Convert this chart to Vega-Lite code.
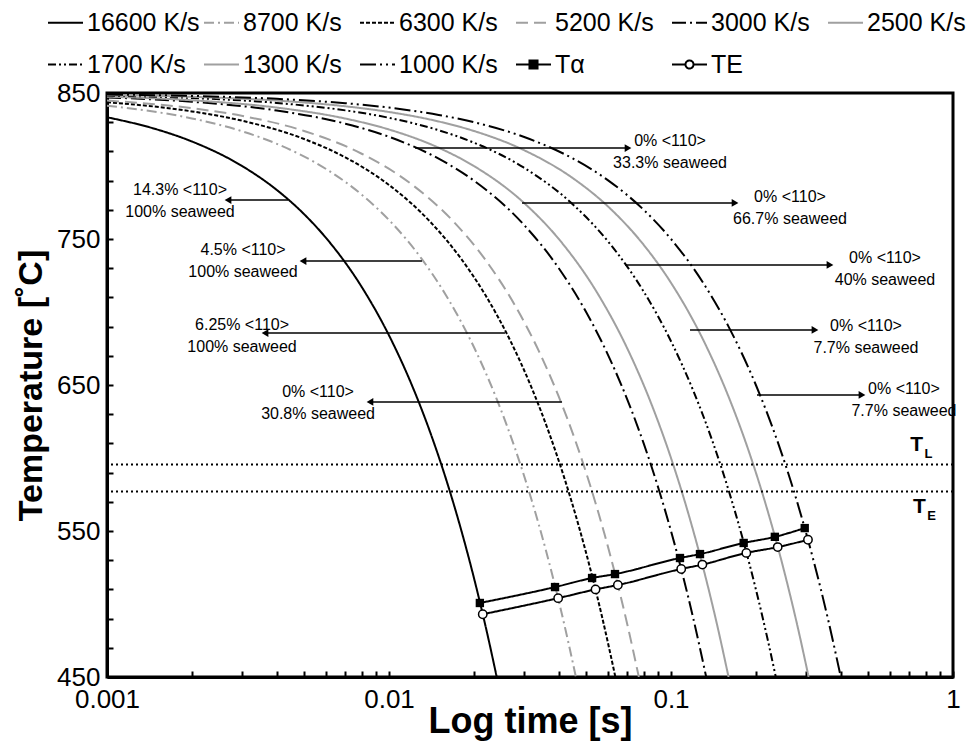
{
  "$schema": "https://vega.github.io/schema/vega-lite/v6.json",
  "width": 846,
  "height": 584,
  "autosize": {"type": "none"},
  "padding": {"left": 107, "top": 93, "right": 14, "bottom": 66},
  "background": "white",
  "config": {
    "font": "Liberation Sans",
    "view": {"stroke": "black", "strokeWidth": 3},
    "axis": {"grid": false, "domainColor": "black", "domainWidth": 3, "tickColor": "black", "tickWidth": 2, "labelColor": "black", "titleColor": "black", "labelFontSize": 26, "titleFontWeight": "bold", "labelOverlap": false, "labelFlush": false}
  },
  "datasets": {
    "curves": [
      {"series": "16600 K/s", "t": 0.001, "T": 833.4}, {"series": "16600 K/s", "t": 0.0015, "T": 825.1}, {"series": "16600 K/s", "t": 0.002, "T": 816.8}, {"series": "16600 K/s", "t": 0.003, "T": 800.2}, {"series": "16600 K/s", "t": 0.004, "T": 783.6}, {"series": "16600 K/s", "t": 0.005, "T": 767.0}, {"series": "16600 K/s", "t": 0.006, "T": 750.4}, {"series": "16600 K/s", "t": 0.008, "T": 717.2}, {"series": "16600 K/s", "t": 0.01, "T": 684.0}, {"series": "16600 K/s", "t": 0.012, "T": 650.8}, {"series": "16600 K/s", "t": 0.014, "T": 617.6}, {"series": "16600 K/s", "t": 0.016, "T": 584.4}, {"series": "16600 K/s", "t": 0.018, "T": 551.2}, {"series": "16600 K/s", "t": 0.02, "T": 518.0}, {"series": "16600 K/s", "t": 0.022, "T": 484.8}, {"series": "16600 K/s", "t": 0.0241, "T": 450},
      {"series": "8700 K/s", "t": 0.001, "T": 841.3}, {"series": "8700 K/s", "t": 0.002, "T": 832.6}, {"series": "8700 K/s", "t": 0.003, "T": 823.9}, {"series": "8700 K/s", "t": 0.004, "T": 815.2}, {"series": "8700 K/s", "t": 0.006, "T": 797.8}, {"series": "8700 K/s", "t": 0.008, "T": 780.4}, {"series": "8700 K/s", "t": 0.01, "T": 763.0}, {"series": "8700 K/s", "t": 0.013, "T": 736.9}, {"series": "8700 K/s", "t": 0.016, "T": 710.8}, {"series": "8700 K/s", "t": 0.02, "T": 676.0}, {"series": "8700 K/s", "t": 0.024, "T": 641.2}, {"series": "8700 K/s", "t": 0.028, "T": 606.4}, {"series": "8700 K/s", "t": 0.032, "T": 571.6}, {"series": "8700 K/s", "t": 0.036, "T": 536.8}, {"series": "8700 K/s", "t": 0.04, "T": 502.0}, {"series": "8700 K/s", "t": 0.043, "T": 475.9}, {"series": "8700 K/s", "t": 0.046, "T": 450},
      {"series": "6300 K/s", "t": 0.001, "T": 843.7}, {"series": "6300 K/s", "t": 0.002, "T": 837.4}, {"series": "6300 K/s", "t": 0.003, "T": 831.1}, {"series": "6300 K/s", "t": 0.005, "T": 818.5}, {"series": "6300 K/s", "t": 0.007, "T": 805.9}, {"series": "6300 K/s", "t": 0.01, "T": 787.0}, {"series": "6300 K/s", "t": 0.014, "T": 761.8}, {"series": "6300 K/s", "t": 0.018, "T": 736.6}, {"series": "6300 K/s", "t": 0.022, "T": 711.4}, {"series": "6300 K/s", "t": 0.027, "T": 679.9}, {"series": "6300 K/s", "t": 0.032, "T": 648.4}, {"series": "6300 K/s", "t": 0.037, "T": 616.9}, {"series": "6300 K/s", "t": 0.042, "T": 585.4}, {"series": "6300 K/s", "t": 0.047, "T": 553.9}, {"series": "6300 K/s", "t": 0.052, "T": 522.4}, {"series": "6300 K/s", "t": 0.057, "T": 490.9}, {"series": "6300 K/s", "t": 0.0635, "T": 450},
      {"series": "5200 K/s", "t": 0.001, "T": 844.8}, {"series": "5200 K/s", "t": 0.002, "T": 839.6}, {"series": "5200 K/s", "t": 0.003, "T": 834.4}, {"series": "5200 K/s", "t": 0.005, "T": 824.0}, {"series": "5200 K/s", "t": 0.008, "T": 808.4}, {"series": "5200 K/s", "t": 0.012, "T": 787.6}, {"series": "5200 K/s", "t": 0.017, "T": 761.6}, {"series": "5200 K/s", "t": 0.022, "T": 735.6}, {"series": "5200 K/s", "t": 0.028, "T": 704.4}, {"series": "5200 K/s", "t": 0.034, "T": 673.2}, {"series": "5200 K/s", "t": 0.04, "T": 642.0}, {"series": "5200 K/s", "t": 0.046, "T": 610.8}, {"series": "5200 K/s", "t": 0.052, "T": 579.6}, {"series": "5200 K/s", "t": 0.058, "T": 548.4}, {"series": "5200 K/s", "t": 0.064, "T": 517.2}, {"series": "5200 K/s", "t": 0.07, "T": 486.0}, {"series": "5200 K/s", "t": 0.0769, "T": 450},
      {"series": "3000 K/s", "t": 0.001, "T": 847.0}, {"series": "3000 K/s", "t": 0.002, "T": 844.0}, {"series": "3000 K/s", "t": 0.004, "T": 838.0}, {"series": "3000 K/s", "t": 0.007, "T": 829.0}, {"series": "3000 K/s", "t": 0.01, "T": 820.0}, {"series": "3000 K/s", "t": 0.015, "T": 805.0}, {"series": "3000 K/s", "t": 0.02, "T": 790.0}, {"series": "3000 K/s", "t": 0.03, "T": 760.0}, {"series": "3000 K/s", "t": 0.04, "T": 730.0}, {"series": "3000 K/s", "t": 0.05, "T": 700.0}, {"series": "3000 K/s", "t": 0.06, "T": 670.0}, {"series": "3000 K/s", "t": 0.07, "T": 640.0}, {"series": "3000 K/s", "t": 0.08, "T": 610.0}, {"series": "3000 K/s", "t": 0.09, "T": 580.0}, {"series": "3000 K/s", "t": 0.1, "T": 550.0}, {"series": "3000 K/s", "t": 0.11, "T": 520.0}, {"series": "3000 K/s", "t": 0.12, "T": 490.0}, {"series": "3000 K/s", "t": 0.1333, "T": 450},
      {"series": "2500 K/s", "t": 0.001, "T": 847.5}, {"series": "2500 K/s", "t": 0.002, "T": 845.0}, {"series": "2500 K/s", "t": 0.004, "T": 840.0}, {"series": "2500 K/s", "t": 0.007, "T": 832.5}, {"series": "2500 K/s", "t": 0.01, "T": 825.0}, {"series": "2500 K/s", "t": 0.015, "T": 812.5}, {"series": "2500 K/s", "t": 0.02, "T": 800.0}, {"series": "2500 K/s", "t": 0.03, "T": 775.0}, {"series": "2500 K/s", "t": 0.04, "T": 750.0}, {"series": "2500 K/s", "t": 0.055, "T": 712.5}, {"series": "2500 K/s", "t": 0.07, "T": 675.0}, {"series": "2500 K/s", "t": 0.085, "T": 637.5}, {"series": "2500 K/s", "t": 0.1, "T": 600.0}, {"series": "2500 K/s", "t": 0.115, "T": 562.5}, {"series": "2500 K/s", "t": 0.13, "T": 525.0}, {"series": "2500 K/s", "t": 0.145, "T": 487.5}, {"series": "2500 K/s", "t": 0.16, "T": 450},
      {"series": "1700 K/s", "t": 0.001, "T": 848.3}, {"series": "1700 K/s", "t": 0.002, "T": 846.6}, {"series": "1700 K/s", "t": 0.004, "T": 843.2}, {"series": "1700 K/s", "t": 0.007, "T": 838.1}, {"series": "1700 K/s", "t": 0.01, "T": 833.0}, {"series": "1700 K/s", "t": 0.015, "T": 824.5}, {"series": "1700 K/s", "t": 0.02, "T": 816.0}, {"series": "1700 K/s", "t": 0.03, "T": 799.0}, {"series": "1700 K/s", "t": 0.045, "T": 773.5}, {"series": "1700 K/s", "t": 0.06, "T": 748.0}, {"series": "1700 K/s", "t": 0.08, "T": 714.0}, {"series": "1700 K/s", "t": 0.1, "T": 680.0}, {"series": "1700 K/s", "t": 0.12, "T": 646.0}, {"series": "1700 K/s", "t": 0.14, "T": 612.0}, {"series": "1700 K/s", "t": 0.16, "T": 578.0}, {"series": "1700 K/s", "t": 0.18, "T": 544.0}, {"series": "1700 K/s", "t": 0.2, "T": 510.0}, {"series": "1700 K/s", "t": 0.22, "T": 476.0}, {"series": "1700 K/s", "t": 0.2353, "T": 450},
      {"series": "1300 K/s", "t": 0.001, "T": 848.7}, {"series": "1300 K/s", "t": 0.002, "T": 847.4}, {"series": "1300 K/s", "t": 0.004, "T": 844.8}, {"series": "1300 K/s", "t": 0.007, "T": 840.9}, {"series": "1300 K/s", "t": 0.01, "T": 837.0}, {"series": "1300 K/s", "t": 0.015, "T": 830.5}, {"series": "1300 K/s", "t": 0.02, "T": 824.0}, {"series": "1300 K/s", "t": 0.03, "T": 811.0}, {"series": "1300 K/s", "t": 0.045, "T": 791.5}, {"series": "1300 K/s", "t": 0.06, "T": 772.0}, {"series": "1300 K/s", "t": 0.08, "T": 746.0}, {"series": "1300 K/s", "t": 0.1, "T": 720.0}, {"series": "1300 K/s", "t": 0.13, "T": 681.0}, {"series": "1300 K/s", "t": 0.16, "T": 642.0}, {"series": "1300 K/s", "t": 0.19, "T": 603.0}, {"series": "1300 K/s", "t": 0.22, "T": 564.0}, {"series": "1300 K/s", "t": 0.25, "T": 525.0}, {"series": "1300 K/s", "t": 0.28, "T": 486.0}, {"series": "1300 K/s", "t": 0.3077, "T": 450},
      {"series": "1000 K/s", "t": 0.001, "T": 849.0}, {"series": "1000 K/s", "t": 0.002, "T": 848.0}, {"series": "1000 K/s", "t": 0.004, "T": 846.0}, {"series": "1000 K/s", "t": 0.007, "T": 843.0}, {"series": "1000 K/s", "t": 0.01, "T": 840.0}, {"series": "1000 K/s", "t": 0.015, "T": 835.0}, {"series": "1000 K/s", "t": 0.02, "T": 830.0}, {"series": "1000 K/s", "t": 0.03, "T": 820.0}, {"series": "1000 K/s", "t": 0.045, "T": 805.0}, {"series": "1000 K/s", "t": 0.06, "T": 790.0}, {"series": "1000 K/s", "t": 0.08, "T": 770.0}, {"series": "1000 K/s", "t": 0.1, "T": 750.0}, {"series": "1000 K/s", "t": 0.13, "T": 720.0}, {"series": "1000 K/s", "t": 0.16, "T": 690.0}, {"series": "1000 K/s", "t": 0.2, "T": 650.0}, {"series": "1000 K/s", "t": 0.24, "T": 610.0}, {"series": "1000 K/s", "t": 0.28, "T": 570.0}, {"series": "1000 K/s", "t": 0.32, "T": 530.0}, {"series": "1000 K/s", "t": 0.36, "T": 490.0}, {"series": "1000 K/s", "t": 0.4, "T": 450},
      {"series": "Tα", "t": 0.021, "T": 500.7}, {"series": "Tα", "t": 0.0388, "T": 511.6}, {"series": "Tα", "t": 0.0525, "T": 517.8}, {"series": "Tα", "t": 0.0633, "T": 520.5}, {"series": "Tα", "t": 0.1076, "T": 531.5}, {"series": "Tα", "t": 0.1267, "T": 534.2}, {"series": "Tα", "t": 0.181, "T": 541.8}, {"series": "Tα", "t": 0.2335, "T": 546.0}, {"series": "Tα", "t": 0.298, "T": 552.0},
      {"series": "TE", "t": 0.0215, "T": 493.0}, {"series": "TE", "t": 0.0398, "T": 504.0}, {"series": "TE", "t": 0.054, "T": 510.0}, {"series": "TE", "t": 0.0648, "T": 513.0}, {"series": "TE", "t": 0.1087, "T": 524.0}, {"series": "TE", "t": 0.1292, "T": 527.0}, {"series": "TE", "t": 0.185, "T": 535.0}, {"series": "TE", "t": 0.239, "T": 539.0}, {"series": "TE", "t": 0.306, "T": 544.0}
    ],
    "levels": [{"name": "TL", "T": 595.5}, {"name": "TE", "T": 577.0}],
    "arrows": [
      {"tail": 0.004384, "head": 0.002686, "T": 776.7, "dir": "left"},
      {"tail": 0.01309, "head": 0.004955, "T": 734.9, "dir": "left"},
      {"tail": 0.02578, "head": 0.003634, "T": 685.6, "dir": "left"},
      {"tail": 0.04108, "head": 0.008562, "T": 638.4, "dir": "left"},
      {"tail": 0.01237, "head": 0.07041, "T": 812.3, "dir": "right"},
      {"tail": 0.02962, "head": 0.1687, "T": 774.7, "dir": "right"},
      {"tail": 0.06869, "head": 0.3663, "T": 732.2, "dir": "right"},
      {"tail": 0.1168, "head": 0.324, "T": 687.7, "dir": "right"},
      {"tail": 0.2018, "head": 0.4757, "T": 643.2, "dir": "right"}
    ],
    "notes": [
      {"label": "14.3% <110>\n100% seaweed", "t": 0.001815, "T": 776.0},
      {"label": "4.5% <110>\n100% seaweed", "t": 0.003037, "T": 734.9},
      {"label": "6.25% <110>\n100% seaweed", "t": 0.003012, "T": 683.6},
      {"label": "0% <110>\n30.8% seaweed", "t": 0.005603, "T": 637.7},
      {"label": "0% <110>\n33.3% seaweed", "t": 0.0992, "T": 809.6},
      {"label": "0% <110>\n66.7% seaweed", "t": 0.2642, "T": 771.2},
      {"label": "0% <110>\n40% seaweed", "t": 0.5739, "T": 729.5},
      {"label": "0% <110>\n7.7% seaweed", "t": 0.4914, "T": 682.9},
      {"label": "0% <110>\n7.7% seaweed", "t": 0.67, "T": 639.7}
    ],
    "bigT": [{"label": "T", "t": 0.7425, "T": 608.6}, {"label": "T", "t": 0.7605, "T": 566.1}],
    "subs": [{"label": "L", "t": 0.8187, "T": 602.7}, {"label": "E", "t": 0.839, "T": 560.6}]
  },
  "encoding": {
    "x": {"field": "t", "type": "quantitative", "scale": {"type": "log", "domain": [0.001, 1], "nice": false},
      "axis": {"title": "Log time [s]", "values": [0.001,0.002,0.003,0.004,0.005,0.006,0.007,0.008,0.009,0.01,0.02,0.03,0.04,0.05,0.06,0.07,0.08,0.09,0.1,0.2,0.3,0.4,0.5,0.6,0.7,0.8,0.9,1],
        "labelExpr": "datum.value == 0.001 ? '0.001' : datum.value == 0.01 ? '0.01' : datum.value == 0.1 ? '0.1' : datum.value == 1 ? '1' : ''",
        "tickSize": -6, "labelPadding": 15, "titlePadding": -8, "titleFontSize": 36}},
    "y": {"field": "T", "type": "quantitative", "scale": {"domain": [450, 850], "nice": false, "zero": false},
      "axis": {"title": "Temperature [˚C]", "values": [450,470,490,510,530,550,570,590,610,630,650,670,690,710,730,750,770,790,810,830,850],
        "labelExpr": "datum.value % 100 == 50 ? datum.label : ''", "tickSize": -6, "labelPadding": 13, "titlePadding": 8, "titleFontSize": 34}}
  },
  "layer": [
    {
      "data": {"name": "curves"},
      "mark": {"type": "line", "strokeWidth": 2, "interpolate": "monotone", "clip": true},
      "encoding": {
        "color": {"field": "series", "type": "nominal",
          "scale": {"domain": ["16600 K/s","8700 K/s","6300 K/s","5200 K/s","3000 K/s","2500 K/s","1700 K/s","1300 K/s","1000 K/s","Tα","TE"],
            "range": ["#000000","#a0a0a0","#000000","#a0a0a0","#000000","#a0a0a0","#000000","#a0a0a0","#000000","#000000","#000000"]},
          "legend": {"title": null, "orient": "none", "legendX": -60, "legendY": -89, "columns": 6, "direction": "horizontal", "gridAlign": "all",
            "columnPadding": 0, "rowPadding": 10, "padding": 0, "labelFontSize": 25, "labelColor": "black", "labelOffset": 3, "labelLimit": 300,
            "symbolType": "stroke", "symbolSize": 1225, "symbolStrokeWidth": 2,
            "encode": {"symbols": {"update": {
              "shape": {"signal": "datum.value === 'Tα' ? 'M-1,0L1,0M-0.23,-0.23L0.23,-0.23L0.23,0.23L-0.23,0.23Z' : datum.value === 'TE' ? 'M-1,0L-0.23,0M0.23,0L1,0M0.23,0A0.23,0.23,0,1,1,-0.23,0A0.23,0.23,0,1,1,0.23,0Z' : 'stroke'"},
              "fill": {"signal": "datum.value === 'Tα' ? 'black' : datum.value === 'TE' ? 'white' : 'transparent'"}
            }}}}},
        "strokeDash": {"field": "series", "type": "nominal",
          "scale": {"domain": ["16600 K/s","8700 K/s","6300 K/s","5200 K/s","3000 K/s","2500 K/s","1700 K/s","1300 K/s","1000 K/s","Tα","TE"],
            "range": [[1,0],[10,4,2,4],[4,2],[12,6],[14,4,2,4],[1,0],[8,3,2,3,2,3],[1,0],[16,4,2,4,2,4],[1,0],[1,0]]}}
      }
    },
    {
      "data": {"name": "curves"},
      "transform": [{"filter": "datum.series === 'Tα'"}],
      "mark": {"type": "point", "shape": "square", "filled": true, "color": "black", "opacity": 1, "size": 70}
    },
    {
      "data": {"name": "curves"},
      "transform": [{"filter": "datum.series === 'TE'"}],
      "mark": {"type": "point", "shape": "circle", "fill": "white", "stroke": "black", "strokeWidth": 1.5, "opacity": 1, "size": 70}
    },
    {
      "data": {"name": "levels"},
      "mark": {"type": "rule", "color": "black", "strokeWidth": 2, "strokeDash": [2, 3]},
      "encoding": {"x": null}
    },
    {
      "data": {"name": "arrows"},
      "mark": {"type": "rule", "color": "black", "strokeWidth": 1.5},
      "encoding": {"x": {"field": "tail", "type": "quantitative"}, "x2": {"field": "head"}}
    },
    {
      "data": {"name": "arrows"},
      "mark": {"type": "point", "filled": true, "color": "black", "opacity": 1, "size": 60},
      "encoding": {"x": {"field": "head", "type": "quantitative"},
        "shape": {"field": "dir", "type": "nominal", "scale": {"domain": ["left", "right"], "range": ["triangle-left", "triangle-right"]}, "legend": null}}
    },
    {
      "data": {"name": "notes"},
      "mark": {"type": "text", "fontSize": 16, "lineBreak": "\n", "lineHeight": 22, "align": "center", "baseline": "middle", "dy": -11, "color": "black"},
      "encoding": {"text": {"field": "label"}}
    },
    {
      "data": {"name": "bigT"},
      "mark": {"type": "text", "fontSize": 21, "fontWeight": "bold", "align": "center", "baseline": "middle", "color": "black"},
      "encoding": {"text": {"field": "label"}}
    },
    {
      "data": {"name": "subs"},
      "mark": {"type": "text", "fontSize": 13, "fontWeight": "bold", "align": "center", "baseline": "middle", "color": "black"},
      "encoding": {"text": {"field": "label"}}
    }
  ]
}
